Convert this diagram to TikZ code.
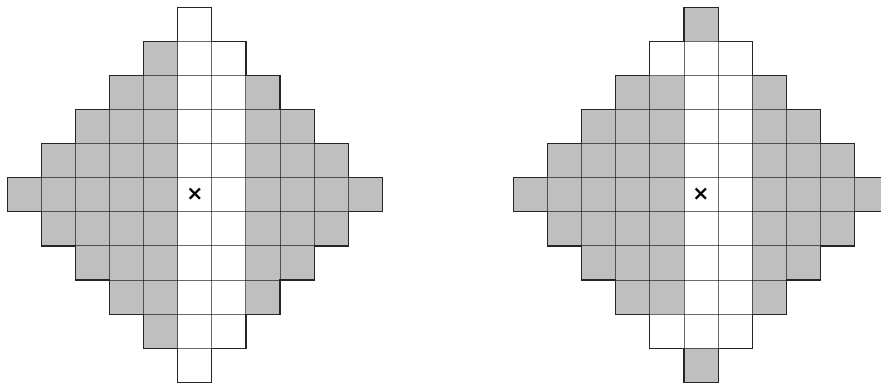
\documentclass[tikz,border=0pt]{standalone}
\usepackage{fontspec}
\usetikzlibrary{positioning}
\newfontfamily\markfont{DejaVu Sans}
\definecolor{cellgray}{RGB}{191,191,191}
\tikzset{
  graycell/.style={fill=cellgray},
  gridline/.style={draw=black, draw opacity=0.35, line width=0.75pt},
  rim/.style={draw=black!85, line width=0.95pt, line cap=rect},
  centremark/.style={font=\markfont\bfseries\fontsize{17}{17}\selectfont, inner sep=0pt}
}

\begin{document}
\begin{tikzpicture}
  \useasboundingbox (-5.715,-5.52) rectangle (20.13,5.715);

  % left diamond: columns 0 and 1 stay white
  \begin{scope}
    \foreach \i/\h in {-5/0,-4/1,-3/2,-2/3,-1/4,2/3,3/2,4/1,5/0}
      \fill[graycell] (\i-0.5,-\h-0.5) rectangle (\i+0.5,\h+0.5);
    \foreach \i/\h in {-5/0,-4/1,-3/2,-2/3,-1/4,0/5,1/4,2/3,3/2,4/1,5/0}
      \foreach \j in {-\h,...,\h}
        \draw[gridline] (\i-0.5,\j-0.5) rectangle (\i+0.5,\j+0.5);
    \draw[rim] (-0.5,5.5) -- (0.5,5.5) -- (0.5,4.5) -- (1.5,4.5) -- (1.5,3.5) -- (2.5,3.5)
      -- (2.5,2.5) -- (3.5,2.5) -- (3.5,1.5) -- (4.5,1.5) -- (4.5,0.5) -- (5.5,0.5)
      -- (5.5,-0.5) -- (4.5,-0.5) -- (4.5,-1.5) -- (3.5,-1.5) -- (3.5,-2.5) -- (2.5,-2.5)
      -- (2.5,-3.5) -- (1.5,-3.5) -- (1.5,-4.5) -- (0.5,-4.5) -- (0.5,-5.5) -- (-0.5,-5.5)
      -- (-0.5,-4.5) -- (-1.5,-4.5) -- (-1.5,-3.5) -- (-2.5,-3.5) -- (-2.5,-2.5) -- (-3.5,-2.5)
      -- (-3.5,-1.5) -- (-4.5,-1.5) -- (-4.5,-0.5) -- (-5.5,-0.5) -- (-5.5,0.5) -- (-4.5,0.5)
      -- (-4.5,1.5) -- (-3.5,1.5) -- (-3.5,2.5) -- (-2.5,2.5) -- (-2.5,3.5) -- (-1.5,3.5)
      -- (-1.5,4.5) -- (-0.5,4.5) -- cycle;
    \node[centremark] (markL) at (0,0) {×};
  \end{scope}

  % right diamond: tips grey, white ring round the centre band
  \begin{scope}[xshift=14.85cm]
    \foreach \i/\h in {-5/0,-4/1,-3/2,-2/3,-1/3,2/3,3/2,4/1,5/0}
      \fill[graycell] (\i-0.5,-\h-0.5) rectangle (\i+0.5,\h+0.5);
    \fill[graycell] (-0.5,4.5) rectangle (0.5,5.5);
    \fill[graycell] (-0.5,-5.5) rectangle (0.5,-4.5);
    \foreach \i/\h in {-5/0,-4/1,-3/2,-2/3,-1/4,0/5,1/4,2/3,3/2,4/1,5/0}
      \foreach \j in {-\h,...,\h}
        \draw[gridline] (\i-0.5,\j-0.5) rectangle (\i+0.5,\j+0.5);
    \draw[rim] (-0.5,5.5) -- (0.5,5.5) -- (0.5,4.5) -- (1.5,4.5) -- (1.5,3.5) -- (2.5,3.5)
      -- (2.5,2.5) -- (3.5,2.5) -- (3.5,1.5) -- (4.5,1.5) -- (4.5,0.5) -- (5.5,0.5)
      -- (5.5,-0.5) -- (4.5,-0.5) -- (4.5,-1.5) -- (3.5,-1.5) -- (3.5,-2.5) -- (2.5,-2.5)
      -- (2.5,-3.5) -- (1.5,-3.5) -- (1.5,-4.5) -- (0.5,-4.5) -- (0.5,-5.5) -- (-0.5,-5.5)
      -- (-0.5,-4.5) -- (-1.5,-4.5) -- (-1.5,-3.5) -- (-2.5,-3.5) -- (-2.5,-2.5) -- (-3.5,-2.5)
      -- (-3.5,-1.5) -- (-4.5,-1.5) -- (-4.5,-0.5) -- (-5.5,-0.5) -- (-5.5,0.5) -- (-4.5,0.5)
      -- (-4.5,1.5) -- (-3.5,1.5) -- (-3.5,2.5) -- (-2.5,2.5) -- (-2.5,3.5) -- (-1.5,3.5)
      -- (-1.5,4.5) -- (-0.5,4.5) -- cycle;
    \node[centremark] (markR) at (0,0) {×};
  \end{scope}
\end{tikzpicture}
\end{document}
